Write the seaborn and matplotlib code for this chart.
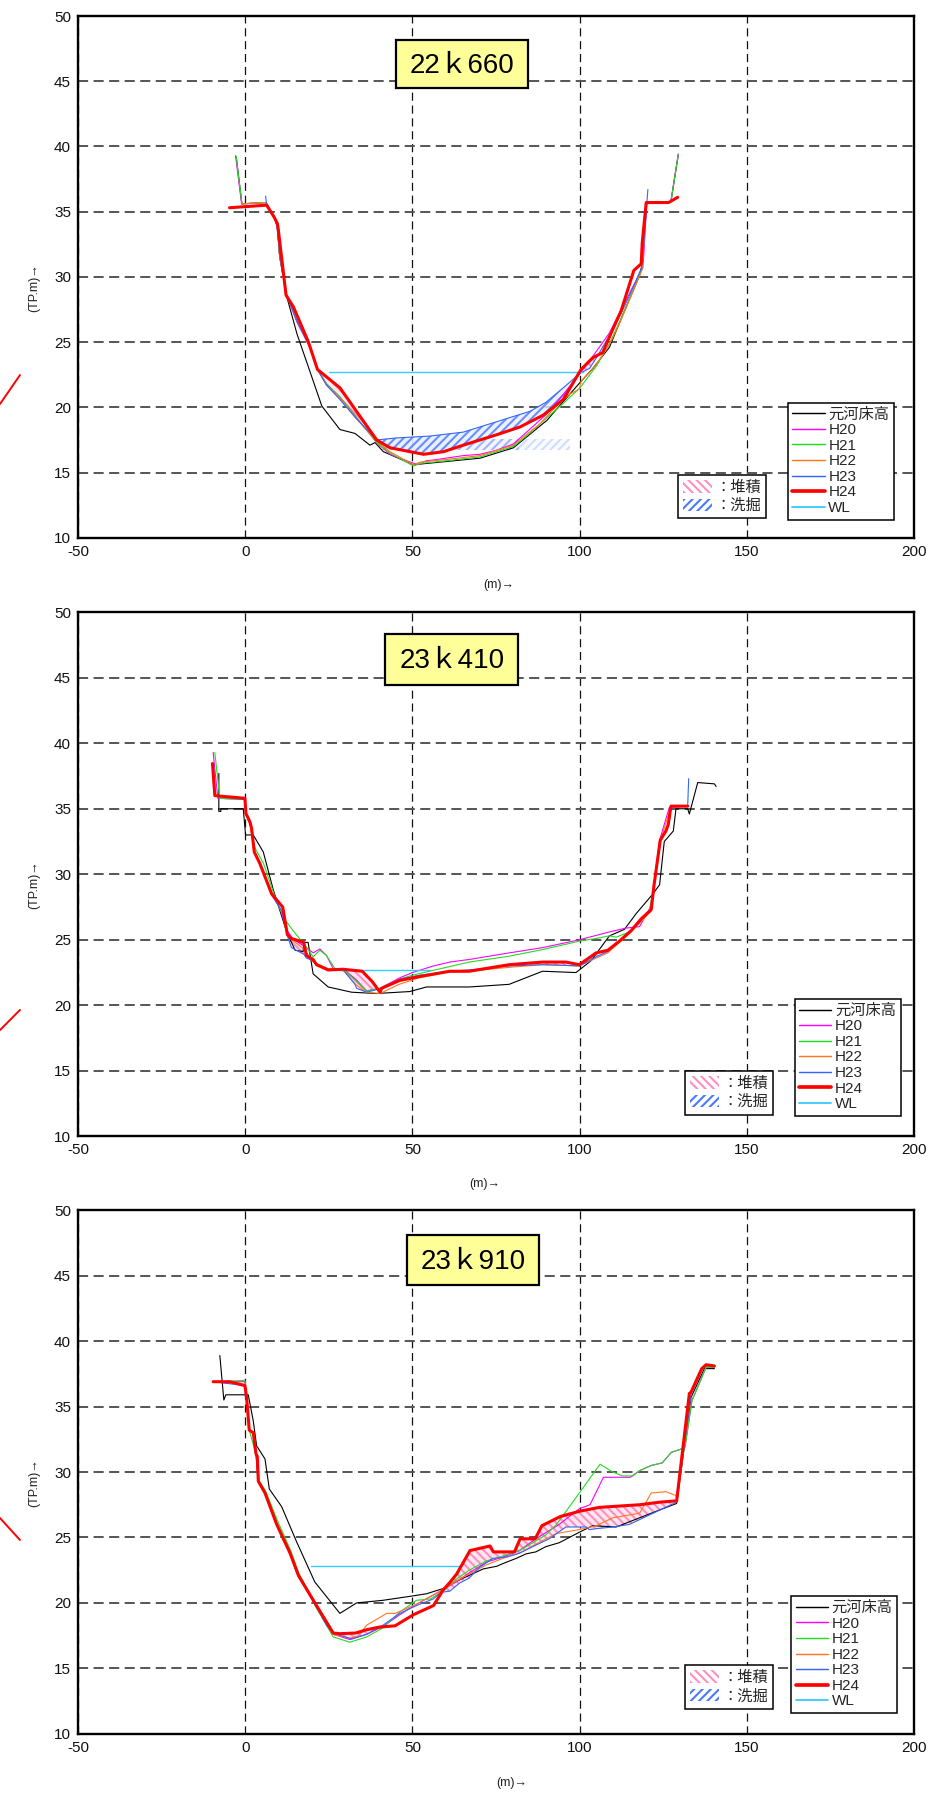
import numpy as np
import matplotlib
matplotlib.use("Agg")
import matplotlib.pyplot as plt
import seaborn as sns
from matplotlib.lines import Line2D
from matplotlib.patches import Patch, Rectangle
from matplotlib.ticker import MultipleLocator

# ---------------------------------------------------------------- data
SECTIONS = ["22ｋ660", "23ｋ410", "23ｋ910"]
SERIES = ["元河床高", "H20", "H21", "H22", "H23", "H24", "WL"]
HATCH_LABELS = ["：堆積", "：洗掘"]
X_TICKS = [-50, 0, 50, 100, 150, 200]
Y_TICKS = [10, 15, 20, 25, 30, 35, 40, 45, 50]

# --- 22k660
S1_BASE_X = [-2.7, -1.0, 6.1, 8.6, 9.6, 10.3, 12.4, 15.5, 18.2, 22.9, 28.3, 32.8, 37.3, 38.8, 41.3, 50.3, 70.2, 80.2, 90.2, 100.1, 104.0, 108.9, 112.9, 115.9, 117.9, 118.7, 119.3, 120.0, 126.6, 127.3, 129.5]
S1_BASE_Y = [39.2, 35.6, 35.7, 34.6, 33.8, 31.5, 28.5, 25.6, 23.6, 20.1, 18.3, 18.0, 17.1, 17.3, 16.6, 15.6, 16.1, 16.9, 19.0, 21.9, 23.0, 24.6, 27.1, 28.9, 30.1, 31.0, 33.5, 35.7, 35.7, 35.8, 39.4]
S1_H20_X = [-2.9, -1.1, 6.1, 8.6, 9.6, 10.2, 12.2, 15.5, 19.3, 21.6, 24.3, 28.3, 33.0, 39.3, 43.3, 47.0, 51.8, 54.0, 57.3, 65.2, 70.2, 75.0, 80.2, 85.0, 90.2, 95.1, 100.1, 103.9, 108.9, 111.4, 113.5, 116.0, 118.9, 119.5, 120.0, 126.6, 127.3, 129.5]
S1_H20_Y = [39.3, 35.6, 35.7, 34.6, 34.0, 31.8, 28.7, 26.5, 24.6, 22.9, 21.8, 20.8, 19.3, 17.3, 16.4, 16.0, 15.6, 15.9, 16.0, 16.3, 16.4, 16.7, 17.2, 18.3, 19.5, 21.0, 22.6, 23.9, 25.7, 27.0, 28.0, 29.3, 30.7, 33.0, 35.7, 35.7, 35.8, 39.4]
S1_H21_X = [-2.7, -1.0, 6.1, 8.6, 9.6, 10.2, 12.2, 15.5, 19.4, 21.6, 24.3, 28.3, 33.0, 39.3, 43.3, 50.3, 52.3, 60.0, 70.2, 80.2, 85.0, 90.2, 95.1, 100.1, 105.1, 108.9, 112.4, 116.0, 118.6, 119.3, 120.0, 126.6, 127.3, 129.5]
S1_H21_Y = [39.2, 35.6, 35.7, 34.6, 34.0, 31.8, 28.7, 26.6, 24.6, 22.9, 21.8, 20.8, 19.3, 17.3, 16.5, 15.5, 15.7, 15.9, 16.2, 17.0, 18.0, 19.2, 20.3, 21.5, 23.2, 24.9, 26.8, 29.0, 30.6, 33.0, 35.7, 35.7, 35.8, 39.4]
S1_H22_X = [-1.0, 6.1, 8.6, 9.6, 10.2, 12.2, 15.5, 19.4, 21.6, 24.3, 28.3, 33.0, 39.3, 43.3, 50.3, 52.3, 60.0, 70.2, 80.2, 84.0, 88.0, 92.0, 96.9, 99.9, 100.4, 103.0, 105.5, 108.9, 112.4, 116.0, 118.6, 119.3, 120.0]
S1_H22_Y = [35.6, 35.7, 34.6, 34.0, 31.8, 28.7, 26.6, 24.6, 22.9, 21.7, 20.7, 19.2, 17.4, 16.6, 15.6, 15.8, 16.0, 16.3, 17.1, 17.9, 18.7, 19.8, 21.0, 21.4, 22.0, 22.7, 23.5, 24.8, 26.7, 28.9, 30.5, 33.0, 35.7]
S1_H23_X = [6.1, 6.3, 8.6, 9.4, 10.4, 12.2, 15.5, 19.4, 21.6, 24.3, 28.3, 33.0, 39.3, 45.0, 55.3, 65.2, 75.2, 85.2, 90.0, 95.1, 100.1, 103.0, 105.0, 108.9, 112.4, 116.0, 118.5, 119.8, 120.1, 120.4]
S1_H23_Y = [36.2, 35.7, 34.6, 34.0, 31.6, 28.7, 26.6, 24.6, 22.9, 21.7, 20.6, 19.2, 17.5, 17.65, 17.8, 18.1, 18.9, 19.7, 20.4, 21.5, 22.6, 23.0, 23.8, 25.5, 27.2, 29.2, 30.7, 34.5, 35.7, 36.7]
S1_H24_X = [-4.7, 6.4, 8.6, 9.6, 9.9, 12.2, 14.4, 18.9, 21.6, 28.3, 39.3, 43.3, 53.3, 59.3, 65.2, 75.2, 82.2, 89.1, 95.1, 100.4, 103.9, 106.9, 108.9, 112.4, 116.2, 118.4, 118.7, 119.9, 126.6, 129.3]
S1_H24_Y = [35.3, 35.5, 34.6, 34.1, 33.6, 28.6, 27.7, 25.0, 22.9, 21.5, 17.5, 16.9, 16.4, 16.6, 17.1, 17.9, 18.5, 19.4, 20.6, 22.9, 23.8, 24.2, 25.4, 27.4, 30.5, 31.0, 32.6, 35.7, 35.7, 36.1]
S1_WL_X = [25.0, 101.1]
S1_WL_Y = [22.74, 22.74]
S1_DEPOSIT = [(21.6, 39.3), (99.5, 106.0)]
S1_SCOUR = [(39.3, 100.0)]
S1_BAND_X = [40.0, 82.0, 97.0]
S1_BAND_Y = [16.7, 17.6]

# --- 23k410
S2_BASE_X = [-7.9, -7.9, -7.3, -7.3, -0.6, 0.1, 2.4, 5.4, 8.4, 12.4, 14.9, 17.3, 17.5, 18.8, 20.3, 24.8, 31.8, 39.2, 49.2, 54.2, 67.0, 78.9, 88.9, 98.9, 103.4, 108.9, 113.4, 116.9, 121.9, 123.9, 125.3, 128.0, 128.8, 132.3, 132.8, 135.3, 140.3, 140.8]
S2_BASE_Y = [37.7, 34.8, 34.8, 35.0, 35.0, 33.0, 33.0, 31.7, 28.8, 25.6, 24.2, 24.1, 24.8, 24.8, 22.4, 21.4, 21.0, 20.9, 21.05, 21.4, 21.4, 21.6, 22.6, 22.5, 23.4, 25.3, 25.8, 27.0, 28.5, 29.2, 32.5, 33.3, 35.0, 35.0, 34.6, 37.0, 36.9, 36.7]
S2_H20_X = [-9.6, -8.2, -0.1, 0.3, 1.5, 2.7, 5.0, 8.2, 10.5, 12.5, 14.5, 17.8, 20.3, 22.3, 24.3, 26.3, 30.0, 33.0, 36.3, 40.3, 46.2, 50.0, 56.2, 61.2, 67.0, 78.9, 88.9, 99.9, 108.9, 113.9, 117.9, 121.4, 123.9, 126.8, 132.3]
S2_H20_Y = [39.3, 35.8, 35.7, 34.5, 33.8, 31.8, 30.5, 28.4, 27.3, 25.7, 25.0, 24.5, 24.0, 24.3, 23.8, 22.8, 22.6, 22.0, 21.1, 21.3, 22.1, 22.5, 23.0, 23.3, 23.5, 24.0, 24.4, 25.0, 25.6, 25.9, 26.0, 27.6, 32.6, 35.1, 35.2]
S2_H21_X = [-9.1, -7.6, -0.1, 0.3, 1.5, 2.9, 5.5, 9.4, 12.0, 14.3, 17.8, 20.3, 22.3, 24.3, 26.8, 30.0, 33.0, 36.3, 40.3, 46.2, 50.0, 60.2, 67.0, 78.9, 88.9, 99.9, 104.9, 108.9, 110.9, 114.9, 118.0, 120.9, 122.2, 124.1, 126.5, 127.3, 132.3]
S2_H21_Y = [39.3, 35.8, 35.7, 34.5, 33.8, 32.0, 30.8, 27.9, 26.5, 25.7, 24.6, 23.7, 24.2, 23.8, 22.8, 22.6, 21.9, 21.1, 21.3, 22.0, 22.3, 22.9, 23.3, 23.75, 24.25, 24.9, 25.1, 25.3, 25.2, 25.6, 26.3, 27.3, 29.1, 32.6, 33.8, 35.2, 35.2]
S2_H22_X = [-0.1, 0.3, 1.5, 2.7, 4.4, 7.9, 11.2, 12.6, 14.0, 17.5, 20.3, 24.8, 29.3, 33.0, 36.0, 40.3, 46.0, 52.0, 60.0, 67.0, 78.9, 88.9, 99.9, 104.9, 108.4, 111.9, 115.4, 118.4, 121.4, 122.2, 124.1, 127.3, 132.3]
S2_H22_Y = [35.7, 34.5, 33.8, 31.7, 30.8, 28.5, 27.5, 25.4, 25.0, 24.3, 23.3, 22.8, 22.7, 21.6, 21.0, 20.9, 21.6, 22.1, 22.5, 22.6, 22.9, 23.1, 23.0, 23.6, 24.0, 24.8, 25.6, 26.4, 27.2, 29.0, 32.5, 35.2, 35.2]
S2_H23_X = [-9.5, -9.0, -0.1, 0.2, 1.4, 1.9, 2.7, 4.4, 7.9, 11.0, 12.6, 13.8, 17.5, 18.3, 20.3, 21.3, 24.8, 29.3, 32.8, 33.3, 36.3, 39.3, 40.8, 46.2, 52.2, 61.2, 67.0, 78.9, 88.9, 95.9, 99.9, 104.9, 108.4, 111.9, 115.4, 118.4, 121.4, 122.2, 124.1, 125.8, 126.5, 127.3, 132.3, 132.6]
S2_H23_Y = [38.5, 36.0, 35.7, 34.6, 34.0, 33.5, 31.7, 30.8, 28.4, 27.2, 25.3, 24.4, 23.9, 23.6, 23.4, 23.1, 22.7, 22.7, 21.6, 21.3, 21.0, 21.2, 21.3, 22.0, 22.3, 22.6, 22.7, 23.0, 23.1, 23.05, 23.0, 23.7, 24.1, 24.9, 25.7, 26.6, 27.3, 29.1, 32.6, 33.3, 33.8, 35.2, 35.2, 37.3]
S2_H24_X = [-9.8, -9.1, -0.1, 0.2, 1.4, 1.9, 2.7, 4.4, 7.9, 11.2, 12.6, 13.8, 17.5, 18.3, 20.3, 21.3, 24.8, 29.3, 35.0, 38.0, 40.3, 40.8, 46.2, 52.2, 61.2, 67.0, 78.9, 88.9, 95.9, 99.9, 104.9, 108.4, 111.9, 115.4, 118.4, 121.4, 122.2, 124.1, 125.8, 126.5, 127.3, 132.3]
S2_H24_Y = [38.45, 36.0, 35.8, 34.65, 34.0, 33.5, 31.7, 30.8, 28.5, 27.5, 25.4, 25.1, 24.8, 23.8, 23.5, 23.1, 22.7, 22.75, 22.6, 21.8, 21.0, 21.3, 21.9, 22.2, 22.6, 22.6, 23.1, 23.3, 23.3, 23.1, 24.0, 24.2, 24.9, 25.7, 26.6, 27.3, 29.1, 32.6, 33.3, 33.8, 35.2, 35.2]
S2_WL_X = [28.3, 55.1]
S2_WL_Y = [22.72, 22.72]
S2_DEPOSIT = [(12.6, 18.3), (29.3, 40.5), (70.0, 110.0)]
S2_SCOUR = []

# --- 23k910
S3_BASE_X = [-7.6, -6.4, -5.8, 0.9, 2.4, 3.4, 5.9, 7.2, 10.9, 15.3, 20.8, 28.3, 33.3, 41.2, 49.2, 54.2, 59.2, 62.0, 65.2, 71.2, 75.2, 77.0, 81.0, 84.0, 86.9, 89.9, 93.9, 99.9, 103.9, 110.9, 116.9, 123.9, 129.0, 133.3, 137.3, 140.3]
S3_BASE_Y = [38.9, 35.5, 35.9, 35.9, 33.9, 32.0, 31.0, 28.7, 27.35, 24.7, 21.6, 19.2, 20.0, 20.2, 20.5, 20.7, 21.1, 21.5, 21.9, 22.6, 22.8, 23.0, 23.4, 23.75, 23.9, 24.3, 24.6, 25.4, 25.9, 25.8, 26.4, 27.1, 27.6, 35.7, 37.9, 37.9]
S3_H20_X = [-9.6, -0.1, 0.4, 1.2, 2.4, 3.2, 3.9, 5.9, 9.4, 13.4, 15.9, 21.3, 26.3, 31.3, 36.3, 41.2, 46.2, 51.2, 56.2, 59.2, 63.0, 67.0, 72.0, 77.0, 82.0, 86.9, 93.9, 99.9, 103.1, 107.1, 115.1, 117.9, 121.4, 124.7, 127.4, 130.8, 131.5, 133.6, 134.5, 137.8, 140.3]
S3_H20_Y = [36.9, 36.9, 35.7, 33.2, 33.0, 31.4, 29.3, 28.5, 26.1, 23.9, 22.1, 19.8, 17.6, 17.2, 17.6, 18.2, 19.1, 19.9, 20.6, 21.0, 21.6, 22.3, 23.1, 23.5, 24.0, 24.9, 26.0, 27.2, 27.5, 29.6, 29.6, 30.1, 30.5, 30.7, 31.5, 31.8, 31.9, 35.5, 36.0, 38.0, 38.0]
S3_H21_X = [-8.6, -0.1, 0.4, 1.4, 3.4, 4.2, 6.0, 9.6, 13.6, 16.0, 21.3, 26.3, 31.3, 36.3, 41.2, 46.2, 51.2, 55.3, 59.2, 63.0, 67.0, 72.0, 76.0, 82.0, 86.0, 89.9, 93.1, 99.9, 106.1, 109.9, 112.9, 115.9, 117.9, 121.4, 124.7, 127.4, 130.8, 131.5, 133.6, 134.5, 137.8, 140.3]
S3_H21_Y = [36.9, 37.0, 35.7, 33.0, 31.2, 29.3, 28.6, 26.3, 24.0, 22.3, 19.6, 17.4, 17.0, 17.4, 18.1, 19.3, 20.2, 20.3, 20.9, 21.8, 22.5, 23.2, 23.5, 24.0, 24.6, 25.2, 26.0, 28.4, 30.6, 30.0, 29.7, 29.7, 30.1, 30.5, 30.7, 31.5, 31.8, 31.9, 35.5, 36.0, 38.0, 38.0]
S3_H22_X = [-9.6, -0.1, 0.4, 1.2, 2.4, 3.2, 3.9, 5.9, 9.4, 13.4, 15.9, 21.3, 26.3, 31.3, 34.0, 36.3, 42.3, 44.8, 51.2, 56.2, 60.0, 64.0, 67.0, 72.0, 77.0, 82.0, 87.0, 93.0, 99.9, 104.9, 109.9, 117.9, 119.4, 121.4, 125.8, 128.8, 129.2, 133.3, 136.5, 137.8, 140.3]
S3_H22_Y = [36.9, 36.7, 35.7, 33.2, 33.0, 31.4, 29.3, 28.4, 26.0, 23.8, 22.0, 19.7, 17.6, 17.3, 17.5, 18.3, 19.2, 19.2, 19.9, 20.6, 21.2, 21.8, 22.2, 22.9, 23.4, 23.8, 24.5, 25.3, 25.6, 25.9, 26.5, 26.85, 27.5, 28.4, 28.5, 28.2, 27.9, 36.1, 37.9, 38.1, 38.1]
S3_H23_X = [-9.6, -0.1, 0.4, 1.2, 2.4, 3.2, 3.9, 5.9, 9.4, 13.4, 15.9, 21.3, 24.3, 26.3, 31.8, 36.3, 41.2, 46.2, 51.2, 56.2, 58.5, 61.2, 64.0, 67.0, 70.0, 74.0, 78.0, 82.0, 86.0, 90.9, 95.9, 101.9, 102.9, 105.9, 110.0, 114.9, 129.0, 133.3, 136.5, 137.8, 140.3]
S3_H23_Y = [36.9, 36.6, 35.7, 33.2, 33.0, 31.4, 29.3, 28.4, 26.0, 23.7, 22.0, 19.7, 18.3, 17.7, 17.25, 17.6, 18.3, 19.2, 19.8, 20.3, 20.8, 20.9, 21.5, 21.9, 22.7, 23.4, 23.5, 23.8, 24.3, 24.9, 25.8, 25.8, 25.6, 25.7, 25.8, 26.0, 27.7, 36.0, 37.8, 38.1, 38.1]
S3_H24_X = [-9.6, -4.6, -0.1, 0.4, 1.2, 2.4, 3.2, 3.6, 3.9, 5.9, 9.4, 13.4, 15.9, 21.3, 26.3, 28.3, 33.0, 36.3, 40.0, 44.8, 50.3, 56.3, 59.2, 61.3, 63.2, 67.2, 73.2, 74.2, 78.2, 80.5, 82.2, 86.7, 88.7, 94.2, 99.9, 105.9, 117.9, 124.0, 129.0, 132.8, 133.3, 136.5, 137.8, 140.3]
S3_H24_Y = [36.9, 36.9, 36.6, 35.7, 33.2, 33.0, 31.4, 31.2, 29.3, 28.4, 26.0, 23.8, 22.1, 19.8, 17.7, 17.65, 17.7, 17.95, 18.15, 18.25, 19.1, 19.8, 21.0, 21.6, 22.2, 24.0, 24.35, 23.9, 23.9, 23.9, 24.9, 24.9, 25.9, 26.6, 27.0, 27.3, 27.5, 27.7, 27.8, 36.0, 36.1, 37.9, 38.2, 38.1]
S3_WL_X = [19.8, 64.2]
S3_WL_Y = [22.85, 22.85]
S3_DEPOSIT = [(26.3, 41.0), (58.5, 129.0)]
S3_SCOUR = []

# ---------------------------------------------------------------- styles
sns.set_theme(style="white")
plt.rcParams["font.family"] = ["Liberation Sans", "Noto Sans CJK JP", "DejaVu Sans"]
plt.rcParams["axes.unicode_minus"] = False
plt.rcParams["hatch.linewidth"] = 1.5

LINE_STYLE = {
    "元河床高": dict(color="#000000", lw=0.8, z=3.0),
    "H20": dict(color="#FF00FF", lw=0.8, z=3.1),
    "H21": dict(color="#22DD22", lw=0.8, z=3.2),
    "H22": dict(color="#FF7722", lw=0.8, z=3.3),
    "H23": dict(color="#3366FF", lw=0.8, z=3.4),
    "H24": dict(color="#FF0000", lw=2.2, z=4.0),
    "WL": dict(color="#33CCFF", lw=1.0, z=3.5),
}
DEPO_FACE, DEPO_EDGE = "#FFE6F0", "#FF8FBF"
SCOUR_FACE, SCOUR_EDGE = "#E8EEFF", "#4A78FF"

PANELS = [
    dict(title=SECTIONS[0],
         series=[(S1_BASE_X, S1_BASE_Y), (S1_H20_X, S1_H20_Y), (S1_H21_X, S1_H21_Y),
                 (S1_H22_X, S1_H22_Y), (S1_H23_X, S1_H23_Y), (S1_H24_X, S1_H24_Y),
                 (S1_WL_X, S1_WL_Y)],
         deposit=S1_DEPOSIT, scour=S1_SCOUR, band=(S1_BAND_X, S1_BAND_Y),
         rect=[0.0832, 0.7009, 0.8913, 0.2902],
         box=(0.380, 0.862, 0.5377, 0.954),
         leg=(0.849, 0.035), hleg=(0.7173, 0.037),
         xlab=(0.5036, -0.0905), mark=((0.0, 0.7753), (0.0213, 0.7914))),
    dict(title=SECTIONS[1],
         series=[(S2_BASE_X, S2_BASE_Y), (S2_H20_X, S2_H20_Y), (S2_H21_X, S2_H21_Y),
                 (S2_H22_X, S2_H22_Y), (S2_H23_X, S2_H23_Y), (S2_H24_X, S2_H24_Y),
                 (S2_WL_X, S2_WL_Y)],
         deposit=S2_DEPOSIT, scour=S2_SCOUR, band=None,
         rect=[0.0832, 0.3680, 0.8913, 0.2915],
         box=(0.3676, 0.862, 0.5267, 0.958),
         leg=(0.857, 0.0395), hleg=(0.7255, 0.0416),
         xlab=(0.487, -0.0908), mark=((0.0, 0.4271), (0.0213, 0.4383))),
    dict(title=SECTIONS[2],
         series=[(S3_BASE_X, S3_BASE_Y), (S3_H20_X, S3_H20_Y), (S3_H21_X, S3_H21_Y),
                 (S3_H22_X, S3_H22_Y), (S3_H23_X, S3_H23_Y), (S3_H24_X, S3_H24_Y),
                 (S3_WL_X, S3_WL_Y)],
         deposit=S3_DEPOSIT, scour=S3_SCOUR, band=None,
         rect=[0.0832, 0.0357, 0.8913, 0.2912],
         box=(0.3937, 0.858, 0.5513, 0.952),
         leg=(0.853, 0.0397), hleg=(0.7255, 0.048),
         xlab=(0.519, -0.094), mark=((0.0, 0.1557), (0.0213, 0.1435))),
]


def fill_change(ax, h23, h24, intervals, kind):
    """Hatch the area between the previous (H23) and latest (H24) survey."""
    x23, y23 = np.asarray(h23[0]), np.asarray(h23[1])
    x24, y24 = np.asarray(h24[0]), np.asarray(h24[1])
    for lo, hi in intervals:
        g = np.linspace(lo, hi, 600)
        a = np.interp(g, x23, y23)
        b = np.interp(g, x24, y24)
        if kind == "deposit":
            where, face, edge, hatch, al = b >= a, DEPO_FACE, DEPO_EDGE, "\\\\\\\\", 1.0
        else:
            where, face, edge, hatch, al = b <= a, SCOUR_FACE, SCOUR_EDGE, "////", 0.8
        ax.fill_between(g, a, b, where=where, interpolate=True, facecolor=face,
                        edgecolor=edge, hatch=hatch, linewidth=0, alpha=al, zorder=2.5)


fig = plt.figure(figsize=(9.38, 17.98), dpi=100)

for p in PANELS:
    ax = fig.add_axes(p["rect"])
    ax.set_facecolor("white")

    # survey lines
    for name, (xs, ys) in zip(SERIES, p["series"]):
        st = LINE_STYLE[name]
        sns.lineplot(x=xs, y=ys, ax=ax, color=st["color"], linewidth=st["lw"],
                     sort=False, estimator=None, legend=False, zorder=st["z"])

    h23, h24 = p["series"][4], p["series"][5]
    fill_change(ax, h23, h24, p["deposit"], "deposit")
    fill_change(ax, h23, h24, p["scour"], "scour")

    if p["band"] is not None:
        bx, by = p["band"]
        ax.fill_between(bx[:2], by[0], by[1], facecolor=SCOUR_FACE, edgecolor=SCOUR_EDGE,
                        hatch="////", linewidth=0, alpha=0.5, zorder=2.4)
        ax.fill_between(bx[1:], by[0], by[1], facecolor=SCOUR_FACE, edgecolor=SCOUR_EDGE,
                        hatch="////", linewidth=0, alpha=0.22, zorder=2.4)

    # axes, ticks and grid
    ax.set_xlim(X_TICKS[0], X_TICKS[-1])
    ax.set_ylim(Y_TICKS[0], Y_TICKS[-1])
    ax.set_xticks(X_TICKS)
    ax.set_yticks(Y_TICKS)
    ax.xaxis.set_minor_locator(MultipleLocator(10))
    ax.yaxis.set_minor_locator(MultipleLocator(1))
    ax.tick_params(which="both", direction="in", top=False, right=False,
                   colors="#111111", width=1.0)
    ax.tick_params(which="major", length=5, labelsize=11, pad=5)
    ax.tick_params(which="minor", length=3.5)
    ax.xaxis.grid(True, which="major", color="#111111", linestyle=(0, (6.5, 3.8)),
                  linewidth=0.9)
    ax.yaxis.grid(True, which="major", color="#555555", linestyle=(0, (5.2, 2.8)),
                  linewidth=1.4)
    ax.set_axisbelow(True)
    for s in ax.spines.values():
        s.set_color("#000000")
        s.set_linewidth(1.7)
    ax.set_xlabel("")
    ax.set_ylabel("")

    ax.text(-0.052, 0.48, "(TP.m)→", rotation=90, transform=ax.transAxes,
            ha="center", va="center", fontsize=9, color="#222222")
    ax.text(p["xlab"][0], p["xlab"][1], "(m)→", transform=ax.transAxes,
            ha="center", va="center", fontsize=9, color="#222222")

    # section title box
    x0, y0, x1, y1 = p["box"]
    ax.add_patch(Rectangle((x0, y0), x1 - x0, y1 - y0, transform=ax.transAxes,
                           facecolor="#FFFF99", edgecolor="black", linewidth=1.6,
                           zorder=6))
    ax.text((x0 + x1) / 2, (y0 + y1) / 2 - 0.003, p["title"], transform=ax.transAxes,
            ha="center", va="center", fontsize=20, zorder=7, color="black")

    # legends
    handles = [Line2D([], [], color=LINE_STYLE[n]["color"],
                      lw=LINE_STYLE[n]["lw"] * (1.2 if n == "H24" else 1.3))
               for n in SERIES]
    leg = ax.legend(handles, SERIES, loc="lower left", bbox_to_anchor=p["leg"],
                    frameon=True, fancybox=False, edgecolor="black", framealpha=1,
                    fontsize=11, handlelength=2.1, handletextpad=0.25,
                    labelspacing=0.1, borderpad=0.3, borderaxespad=0)
    leg.get_frame().set_linewidth(1.1)
    leg.set_zorder(8)
    ax.add_artist(leg)

    hatch_handles = [
        Patch(facecolor="white", edgecolor=DEPO_EDGE, hatch="\\\\\\\\", linewidth=0),
        Patch(facecolor="white", edgecolor=SCOUR_EDGE, hatch="////", linewidth=0),
    ]
    leg2 = ax.legend(hatch_handles, HATCH_LABELS, loc="lower left",
                     bbox_to_anchor=p["hleg"], frameon=True, fancybox=False,
                     edgecolor="black", framealpha=1, fontsize=11,
                     handlelength=1.9, handleheight=0.9, handletextpad=0.2,
                     labelspacing=0.25, borderpad=0.35, borderaxespad=0)
    leg2.get_frame().set_linewidth(1.1)
    leg2.set_zorder(8)

    # stray pen mark in the left margin
    (mx0, my0), (mx1, my1) = p["mark"]
    fig.add_artist(Line2D([mx0, mx1], [my0, my1], transform=fig.transFigure,
                          color="#FF0000", lw=1.4))

fig.savefig("out.png", dpi=100, facecolor="white")
